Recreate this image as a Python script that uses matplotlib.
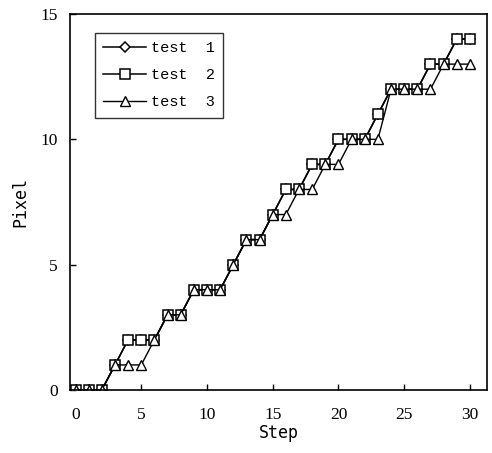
import matplotlib
matplotlib.use('Agg')
import matplotlib.pyplot as plt

steps = list(range(31))
test1 = [0, 0, 0, 1, 2, 2, 2, 3, 3, 4, 4, 4, 5, 6, 6, 7, 8, 8, 9, 9, 10, 10, 10, 11, 12, 12, 12, 13, 13, 14, 14]
test2 = [0, 0, 0, 1, 2, 2, 2, 3, 3, 4, 4, 4, 5, 6, 6, 7, 8, 8, 9, 9, 10, 10, 10, 11, 12, 12, 12, 13, 13, 14, 14]
test3 = [0, 0, 0, 1, 1, 1, 2, 3, 3, 4, 4, 4, 5, 6, 6, 7, 7, 8, 8, 9, 9, 10, 10, 10, 12, 12, 12, 12, 13, 13, 13]
labels = ['test  1', 'test  2', 'test  3']

fig = plt.figure(figsize=(4.92, 4.53), dpi=100)
ax = fig.add_axes([70/492, 1-390/453, 417/492, 376/453])

ax.plot(steps, test1, color='black', lw=1.1, marker='D', ms=5.5, mfc='white', mec='black', mew=1.1, label=labels[0])
ax.plot(steps, test2, color='black', lw=1.1, marker='s', ms=7.5, mfc='white', mec='black', mew=1.1, label=labels[1])
ax.plot(steps, test3, color='black', lw=1.0, marker='^', ms=6.5, mfc='white', mec='black', mew=1.0, label=labels[2])

ax.set_xlim(-0.42, 31.3)
ax.set_ylim(0, 15)
ax.set_xticks([0, 5, 10, 15, 20, 25, 30])
ax.set_yticks([0, 5, 10, 15])
ax.tick_params(direction='in', length=4, width=1, labelsize=12.5)
ax.tick_params(axis='x', pad=12)
ax.tick_params(axis='y', pad=9)
for t in ax.get_xticklabels() + ax.get_yticklabels():
    t.set_fontfamily('Liberation Serif')
for s in ax.spines.values():
    s.set_linewidth(1.2)

ax.set_xlabel('Step', fontfamily='DejaVu Sans Mono', fontsize=12, labelpad=1)
ax.set_ylabel('Pixel', fontfamily='DejaVu Sans Mono', fontsize=12, labelpad=8)

leg = ax.legend(loc='upper left', bbox_to_anchor=(25/417, (390-33)/376), borderaxespad=0,
                frameon=True, fancybox=False, edgecolor='black', handlelength=2.8,
                handletextpad=0.3, labelspacing=0.85, borderpad=0.55,
                prop={'family': 'Liberation Mono', 'size': 11})
leg.get_frame().set_linewidth(1.0)

plt.savefig('out.png', dpi=100)
